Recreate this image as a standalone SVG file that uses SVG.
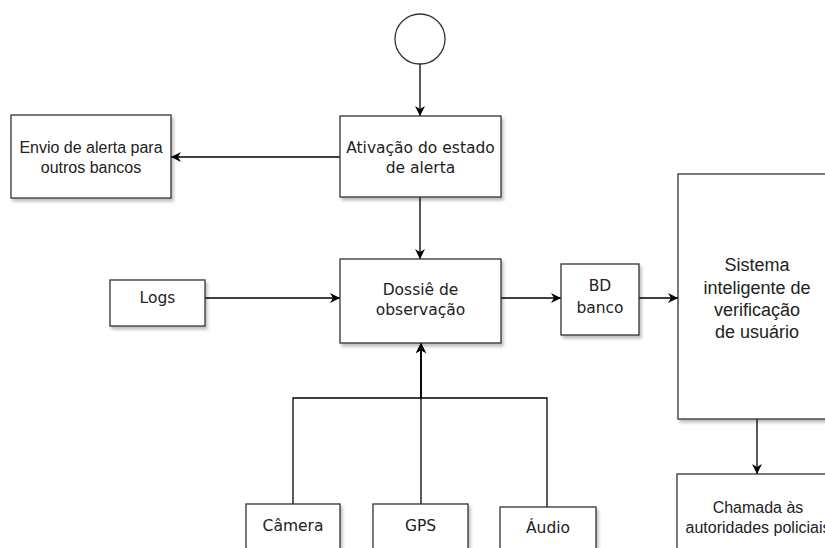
<svg xmlns="http://www.w3.org/2000/svg" width="825" height="548" viewBox="0 0 825 548">
  <defs>
    <filter id="sh" x="-10%" y="-10%" width="130%" height="130%">
      <feDropShadow dx="2" dy="3" stdDeviation="1.5" flood-color="#000" flood-opacity="0.25"/>
    </filter>
    <marker id="arr" markerUnits="userSpaceOnUse" markerWidth="12" markerHeight="10" refX="10" refY="5" orient="auto">
      <path d="M0,0 L10,5 L0,10 L3,5 Z" fill="#000"/>
    </marker>
  </defs>
  <style>
    .box { fill: #fff; stroke: #333; stroke-width: 1.3; filter: url(#sh); }
    .edge { fill: none; stroke: #000; stroke-width: 1.3; }
    .h { font-family: "Liberation Sans", Arial, sans-serif; font-size: 16px; fill: #222; text-anchor: middle; }
    .v { font-family: "DejaVu Sans", Verdana, sans-serif; font-size: 15.5px; fill: #222; text-anchor: middle; }
  </style>
  <rect width="825" height="548" fill="#fff"/>

  <g id="connectors">
    <path class="edge" d="M420,64 L420,116" marker-end="url(#arr)"/>
    <path class="edge" d="M340,157 L171,157" marker-end="url(#arr)"/>
    <path class="edge" d="M420,197 L420,259" marker-end="url(#arr)"/>
    <path class="edge" d="M205,298 L340,298" marker-end="url(#arr)"/>
    <path class="edge" d="M501,298 L561,298" marker-end="url(#arr)"/>
    <path class="edge" d="M639,298 L678,298" marker-end="url(#arr)"/>
    <path class="edge" d="M757,419 L757,474" marker-end="url(#arr)"/>
    <path class="edge" d="M293,504 L293,398 L421,398 L421,343" marker-end="url(#arr)"/>
    <path class="edge" d="M421,504 L421,343" marker-end="url(#arr)"/>
    <path class="edge" d="M547,507 L547,398 L421,398 L421,343" marker-end="url(#arr)"/>
  </g>

  <g id="start">
    <circle cx="420" cy="39" r="25" fill="#fff" stroke="#333" stroke-width="1.3"/>
  </g>

  <g id="ativacao">
    <rect class="box" x="340" y="116" width="161" height="81"/>
    <text class="v" x="420.5" y="152.5">Ativação do estado</text>
    <text class="v" x="420.5" y="172.5">de alerta</text>
  </g>

  <g id="envio">
    <rect class="box" x="11" y="115" width="160" height="83"/>
    <text class="h" x="91" y="152.5">Envio de alerta para</text>
    <text class="h" x="91" y="173">outros bancos</text>
  </g>

  <g id="logs">
    <rect class="box" x="110" y="280" width="95" height="46"/>
    <text class="v" x="157.5" y="303">Logs</text>
  </g>

  <g id="dossie">
    <rect class="box" x="340" y="259" width="161" height="84"/>
    <text class="v" x="420.5" y="295">Dossiê de</text>
    <text class="v" x="420.5" y="315">observação</text>
  </g>

  <g id="bd">
    <rect class="box" x="561" y="264" width="78" height="71"/>
    <text class="v" x="600" y="291">BD</text>
    <text class="v" x="600" y="313">banco</text>
  </g>

  <g id="sistema">
    <rect class="box" x="678" y="174" width="160" height="245"/>
    <text class="h" style="font-size:18px" x="757" y="271">Sistema</text>
    <text class="h" style="font-size:18px" x="757" y="293.5">inteligente de</text>
    <text class="h" style="font-size:18px" x="757" y="315.5">verificação</text>
    <text class="h" style="font-size:18px" x="757" y="337.5">de usuário</text>
  </g>

  <g id="chamada">
    <rect class="box" x="677" y="474" width="160" height="90"/>
    <text class="h" x="758" y="512.5">Chamada às</text>
    <text class="h" x="758" y="532.5">autoridades policiais</text>
  </g>

  <g id="camera">
    <rect class="box" x="246" y="504" width="94" height="60"/>
    <text class="v" x="293" y="530.5">Câmera</text>
  </g>

  <g id="gps">
    <rect class="box" x="373" y="504" width="95" height="60"/>
    <text class="v" x="420.5" y="530.5">GPS</text>
  </g>

  <g id="audio">
    <rect class="box" x="500" y="507" width="96" height="60"/>
    <text class="v" x="548" y="533">Áudio</text>
  </g>
</svg>
